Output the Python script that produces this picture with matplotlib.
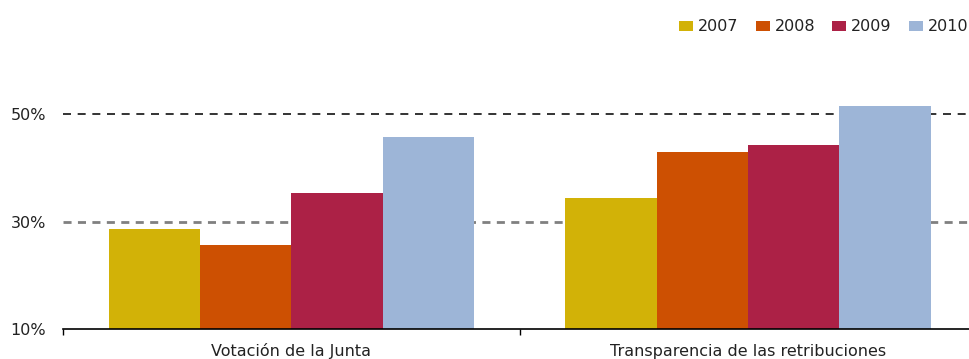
import matplotlib
matplotlib.use("Agg")
import matplotlib.pyplot as plt
from matplotlib.patches import Rectangle
import matplotlib.transforms as mtransforms
import numpy as np

plt.rcParams['font.family'] = ['DejaVu Sans']

# data
categories = ["Votación de la Junta", "Transparencia de las retribuciones"]
years = ["2007", "2008", "2009", "2010"]
values = {
    "2007": [28.6, 34.4],
    "2008": [25.7, 43.0],
    "2009": [35.3, 44.3],
    "2010": [45.8, 51.5],
}
colors = ["#D2B207", "#CD5002", "#AC2146", "#9DB5D7"]
ytick_vals = [10, 30, 50]
ytick_labels = ["10%", "30%", "50%"]

W, H = 969, 359
fig = plt.figure(figsize=(W / 100, H / 100), dpi=100)
ax = fig.add_axes([63 / W, 30 / H, (976.5 - 63) / W, (329 - 60.5) / H])

x = np.arange(len(categories))
w = 0.2
for i, yr in enumerate(years):
    ax.bar(x - 0.3 + i * w, values[yr], width=w, bottom=0, color=colors[i],
           zorder=2, linewidth=0)

# dashed reference lines (dash lengths given in points / linewidth)
ax.axhline(50, color="#111111", linestyle=(0, (4.8, 4.0)), linewidth=1.2, zorder=1)
ax.axhline(30, color="#808080", linestyle=(0, (2.9, 2.3)), linewidth=2.0, zorder=1)

ax.set_xlim(-0.5, 1.5)
ax.set_ylim(10, 60)
ax.set_yticks(ytick_vals)
ax.set_yticklabels(ytick_labels, fontsize=11.5, color="#222222")
ax.tick_params(axis="y", length=0, pad=12)

# category labels on a common baseline
ax.set_xticks(x)
ax.set_xticklabels([])
ax.tick_params(axis="x", which="major", length=0)
trans = mtransforms.blended_transform_factory(ax.transData, fig.transFigure)
for xi, cat in zip(x, categories):
    ax.text(xi, 1 - 356 / H, cat, transform=trans, fontsize=11.5, color="#222222",
            ha="center", va="baseline")
ax.set_xticks([-0.5, 0.5, 1.5], minor=True)
ax.tick_params(axis="x", which="minor", length=4, width=1, direction="out")

for s in ["top", "right", "left"]:
    ax.spines[s].set_visible(False)
ax.spines["bottom"].set_linewidth(1.2)

# legend drawn by hand along the top right
leg_x0 = 679
leg_step = 76.5
for i, yr in enumerate(years):
    lx = leg_x0 + i * leg_step
    fig.add_artist(Rectangle((lx / W, 1 - 31 / H), 14 / W, 10 / H,
                             transform=fig.transFigure, color=colors[i], linewidth=0))
    fig.text((lx + 19) / W, 1 - 31 / H, yr, fontsize=11.5, color="#222222",
             ha="left", va="baseline")

fig.savefig("out.png", dpi=100)
